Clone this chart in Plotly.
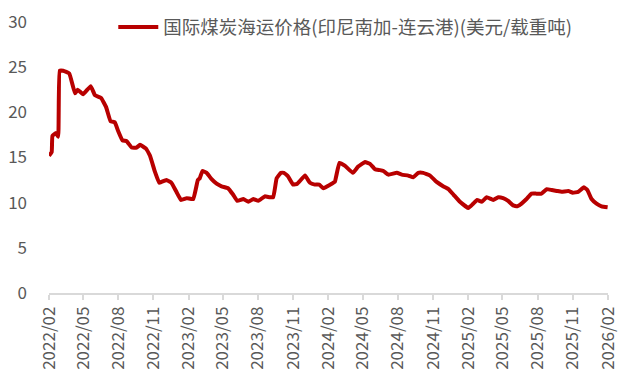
import plotly.graph_objects as go

dates = [
    "2022-02-01", "2022-02-08", "2022-02-10", "2022-02-19", "2022-02-25", "2022-03-01",
    "2022-03-10", "2022-03-26", "2022-04-10", "2022-04-17", "2022-05-01", "2022-05-21",
    "2022-06-01", "2022-06-17", "2022-06-30", "2022-07-12", "2022-07-23", "2022-08-01",
    "2022-08-12", "2022-08-23", "2022-09-05", "2022-09-18", "2022-09-27", "2022-10-12",
    "2022-10-23", "2022-11-05", "2022-11-16", "2022-11-22", "2022-12-05", "2022-12-18",
    "2022-12-31", "2023-01-12", "2023-01-27", "2023-02-13", "2023-02-25", "2023-03-02",
    "2023-03-09", "2023-03-20", "2023-04-02", "2023-04-15", "2023-04-28", "2023-05-15",
    "2023-05-28", "2023-06-08", "2023-06-24", "2023-07-07", "2023-07-20", "2023-08-02",
    "2023-08-19", "2023-09-01", "2023-09-10", "2023-09-19", "2023-09-30", "2023-10-08",
    "2023-10-19", "2023-11-01", "2023-11-12", "2023-12-02", "2023-12-15", "2023-12-28",
    "2024-01-08", "2024-01-19", "2024-02-10", "2024-02-18", "2024-03-01", "2024-03-15",
    "2024-04-05", "2024-04-19", "2024-05-07", "2024-05-20", "2024-06-02", "2024-06-15",
    "2024-06-24", "2024-07-07", "2024-07-29", "2024-08-11", "2024-08-28", "2024-09-10",
    "2024-09-23", "2024-10-06", "2024-10-24", "2024-11-10", "2024-11-28", "2024-12-11",
    "2024-12-24", "2025-01-10", "2025-02-01", "2025-02-14", "2025-02-24", "2025-03-08",
    "2025-03-21", "2025-04-07", "2025-04-20", "2025-05-03", "2025-05-16", "2025-05-29",
    "2025-06-09", "2025-06-20", "2025-07-03", "2025-07-16", "2025-07-29", "2025-08-11",
    "2025-08-25", "2025-09-07", "2025-09-20", "2025-10-03", "2025-10-20", "2025-11-01",
    "2025-11-15", "2025-11-30", "2025-12-09", "2025-12-20", "2026-01-02", "2026-01-15",
    "2026-01-31",
]
freight = [
    15.2, 15.6, 17.4, 17.7, 17.3, 24.6,
    24.6, 24.3, 22.1, 22.5, 22.0, 22.9,
    21.9, 21.6, 20.6, 19.0, 18.9, 17.9,
    16.9, 16.8, 16.1, 16.1, 16.4, 16.0,
    15.2, 13.4, 12.2, 12.3, 12.5, 12.2,
    11.2, 10.3, 10.5, 10.4, 12.5, 12.7,
    13.5, 13.3, 12.6, 12.1, 11.8, 11.6,
    10.9, 10.2, 10.4, 10.1, 10.4, 10.2,
    10.7, 10.6, 10.6, 12.7, 13.3, 13.3,
    12.9, 12.0, 12.1, 13.0, 12.2, 12.0,
    12.0, 11.6, 12.1, 12.3, 14.4, 14.1,
    13.3, 14.0, 14.5, 14.3, 13.7, 13.6,
    13.5, 13.1, 13.3, 13.1, 13.0, 12.8,
    13.3, 13.3, 13.0, 12.3, 11.8, 11.5,
    10.9, 10.1, 9.4, 9.9, 10.3, 10.1,
    10.6, 10.3, 10.6, 10.5, 10.2, 9.7,
    9.6, 9.9, 10.4, 11.0, 11.0, 11.0,
    11.5, 11.4, 11.3, 11.2, 11.3, 11.1,
    11.2, 11.7, 11.4, 10.4, 9.9, 9.6,
    9.5,
]
tick_dates = ["2022-02-01", "2022-05-01", "2022-08-01", "2022-11-01",
              "2023-02-01", "2023-05-01", "2023-08-01", "2023-11-01",
              "2024-02-01", "2024-05-01", "2024-08-01", "2024-11-01",
              "2025-02-01", "2025-05-01", "2025-08-01", "2025-11-01",
              "2026-02-01"]
tick_labels = ["2022/02", "2022/05", "2022/08", "2022/11",
               "2023/02", "2023/05", "2023/08", "2023/11",
               "2024/02", "2024/05", "2024/08", "2024/11",
               "2025/02", "2025/05", "2025/08", "2025/11",
               "2026/02"]
series_name = "国际煤炭海运价格(印尼南加-连云港)(美元/载重吨)"

FONT = "Noto Sans CJK SC"
GREY = "#595959"

fig = go.Figure()
fig.add_trace(go.Scatter(
    x=dates, y=freight, mode="lines", name=series_name,
    line=dict(color="#B80000", width=4, shape="spline", smoothing=0.3),
))

# page body has an 8px default margin, so the figure is sized 8px smaller
fig.update_layout(
    width=627, height=372,
    margin=dict(l=41, r=27, t=14, b=87, autoexpand=False),
    paper_bgcolor="white", plot_bgcolor="white",
    font=dict(family=FONT, color=GREY, size=17),
    showlegend=True,
    legend=dict(x=0.115, y=0.98, xanchor="left", yanchor="middle",
                font=dict(size=18.5, color=GREY, family=FONT),
                itemwidth=40,
                bgcolor="rgba(0,0,0,0)"),
    xaxis=dict(
        type="date", range=["2022-02-01", "2026-02-01"],
        tickvals=tick_dates, ticktext=tick_labels, tickangle=-90,
        showgrid=False, zeroline=False, automargin=False,
        showline=True, linecolor="#D9D9D9", linewidth=1.5,
        ticks="outside", ticklen=5, tickcolor="#D9D9D9", tickwidth=1.5,
        tickfont=dict(size=17, color=GREY, family=FONT),
    ),
    yaxis=dict(
        range=[0, 30], tickvals=[0, 5, 10, 15, 20, 25, 30],
        showgrid=False, zeroline=False, showline=False, automargin=False,
        ticks="", ticklabelstandoff=21, ticklabeloverflow="allow",
        tickfont=dict(size=17, color=GREY, family=FONT),
    ),
)

fig.write_html("out.html")
